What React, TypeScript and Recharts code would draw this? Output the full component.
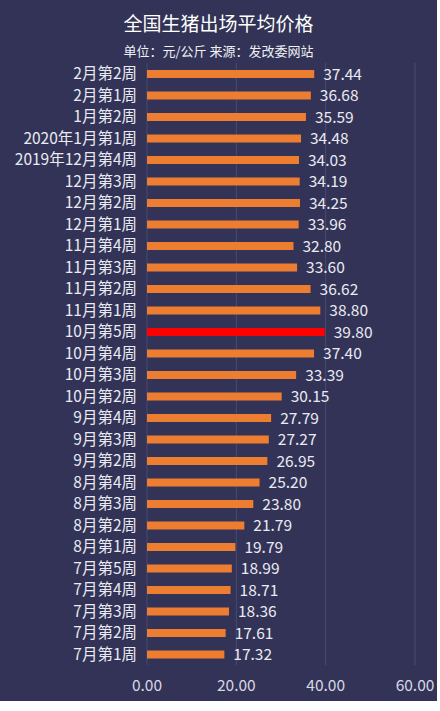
import { BarChart, Bar, XAxis, YAxis, CartesianGrid, LabelList, Cell } from "recharts";

const weeks = [
  "2月第2周", "2月第1周", "1月第2周", "2020年1月第1周", "2019年12月第4周",
  "12月第3周", "12月第2周", "12月第1周", "11月第4周", "11月第3周",
  "11月第2周", "11月第1周", "10月第5周", "10月第4周", "10月第3周",
  "10月第2周", "9月第4周", "9月第3周", "9月第2周", "8月第4周",
  "8月第3周", "8月第2周", "8月第1周", "7月第5周", "7月第4周",
  "7月第3周", "7月第2周", "7月第1周",
];
const prices = [
  37.44, 36.68, 35.59, 34.48, 34.03,
  34.19, 34.25, 33.96, 32.8, 33.6,
  36.62, 38.8, 39.8, 37.4, 33.39,
  30.15, 27.79, 27.27, 26.95, 25.2,
  23.8, 21.79, 19.79, 18.99, 18.71,
  18.36, 17.61, 17.32,
];
const highlightWeek = "10月第5周";
const xTicks = [0, 20, 40, 60];

const FONT = '"Noto Sans CJK SC", "Noto Sans", sans-serif';

export default function App() {
  const data = weeks.map((w, i) => ({ week: w, price: prices[i] }));
  return (
    <div style={{ position: "absolute", left: 0, top: 0, width: 437, height: 701, background: "#323356", fontFamily: FONT }}>
      <div style={{ position: "absolute", top: 9, width: "100%", textAlign: "center", color: "#ffffff", fontSize: 19 }}>
        全国生猪出场平均价格
      </div>
      <div style={{ position: "absolute", top: 41, width: "100%", textAlign: "center", color: "#f0f0f5", fontSize: 13 }}>
        单位：元/公斤 来源：发改委网站
      </div>
      <div style={{ position: "absolute", left: 0, top: 0 }}>
        <BarChart
          width={437}
          height={701}
          data={data}
          layout="vertical"
          margin={{ top: 63, right: 22, left: 0, bottom: 0 }}
          barCategoryGap={0}
        >
          <CartesianGrid horizontal={false} vertical stroke="#4a4b72" />
          <XAxis
            type="number"
            domain={[0, 60]}
            ticks={xTicks}
            tickFormatter={(v: number) => v.toFixed(2)}
            axisLine={false}
            tickLine={false}
            height={36}
            tickMargin={9}
            tick={{ fill: "#d8d8e4", fontSize: 15.5, fontFamily: FONT }}
            interval={0}
          />
          <YAxis
            type="category"
            dataKey="week"
            width={147}
            axisLine={false}
            tickLine={false}
            tickMargin={4}
            interval={0}
            tick={{ fill: "#eaeaf2", fontSize: 15.5, fontFamily: FONT }}
          />
          <Bar dataKey="price" barSize={8} fill="#ed7d31" isAnimationActive={false}>
            {data.map((d) => (
              <Cell key={d.week} fill={d.week === highlightWeek ? "#ff0000" : "#ed7d31"} />
            ))}
            <LabelList
              dataKey="price"
              position="right"
              offset={9}
              formatter={(v: number) => v.toFixed(2)}
              style={{ fill: "#eaeaf2", fontSize: 15.5, fontFamily: FONT }}
            />
          </Bar>
        </BarChart>
      </div>
    </div>
  );
}
